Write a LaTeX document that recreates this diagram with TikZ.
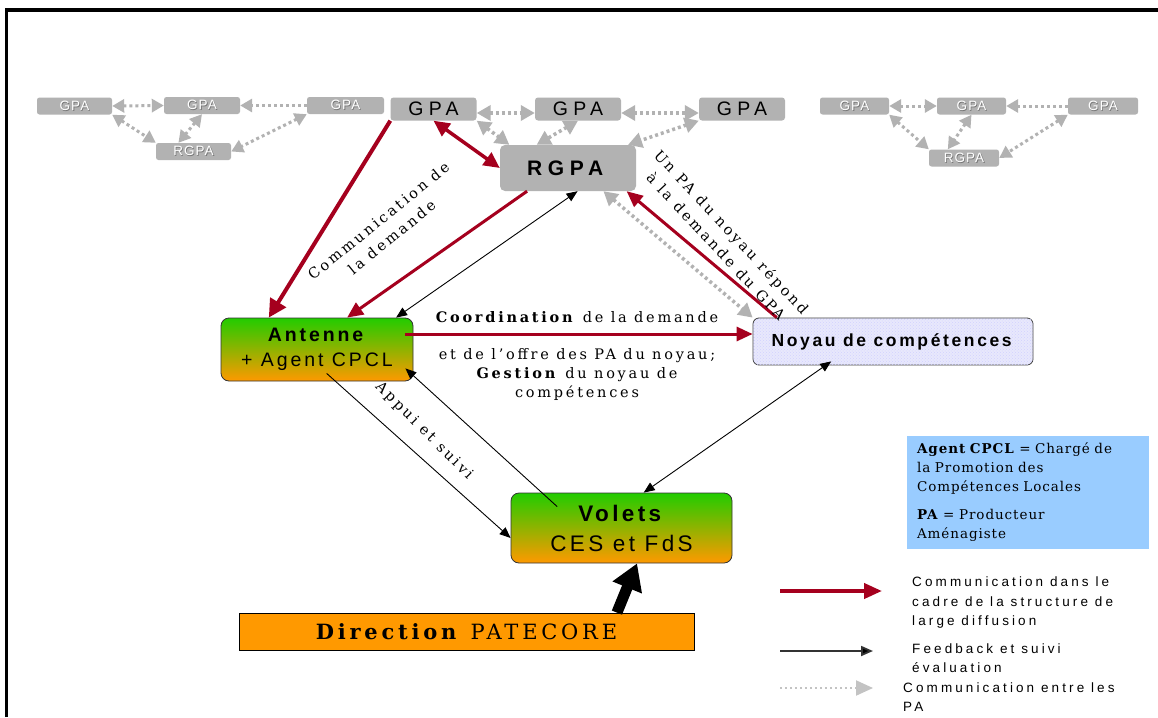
\documentclass[tikz,border=0pt]{standalone}
\usepackage{fontspec}
\setmainfont{DejaVu Serif}
\setsansfont{Liberation Sans}
\newfontfamily\sGPA[LetterSpace=27]{Liberation Sans}
\newfontfamily\sBox[LetterSpace=15]{Liberation Sans}
\newfontfamily\sLeg[LetterSpace=23]{Liberation Sans}
\newfontfamily\sSmall[LetterSpace=8]{Liberation Sans}
\newfontfamily\rLab[LetterSpace=19]{DejaVu Serif}
\newfontfamily\rDir[LetterSpace=18]{DejaVu Serif}
\newfontfamily\rBlue[LetterSpace=7]{DejaVu Serif}
\usetikzlibrary{arrows.meta,calc,patterns}
\definecolor{pgray}{RGB}{178,178,178}
\definecolor{dred}{RGB}{165,0,30}
\definecolor{gtop}{RGB}{34,204,0}
\definecolor{gbot}{RGB}{255,153,0}
\definecolor{lav}{RGB}{232,232,252}
\definecolor{lblue}{RGB}{153,204,255}
\definecolor{lgray}{RGB}{195,195,195}
\definecolor{shgray}{RGB}{120,120,120}
\newcommand\emb[1]{\makebox[0pt][l]{\hspace{0.8pt}\raisebox{-0.8pt}{\textcolor{shgray}{#1}}}\textcolor{white}{#1}}
\tikzset{
  smallbox/.style={fill=pgray, rounded corners=2.5pt, minimum height=17pt, inner sep=0pt, font=\sSmall\fontsize{13.5}{14}\selectfont},
  gpabox/.style={fill=pgray, rounded corners=3pt, minimum width=86pt, minimum height=23pt, inner sep=0pt, font=\sGPA\fontsize{19.5}{20}\selectfont},
  rgpabox/.style={fill=pgray, rounded corners=5pt, minimum width=136pt, minimum height=46pt, inner sep=0pt, font=\sGPA\fontsize{21}{22}\selectfont},
  gradbox/.style={draw=black!80, line width=0.8pt, top color=gtop, bottom color=gbot, rounded corners=8pt, inner sep=0pt, align=center},
  lab/.style={inner sep=0pt, font=\rLab\fontsize{14.5}{19}\selectfont},
  leg/.style={inner sep=0pt, anchor=west, align=left, font=\sLeg\fontsize{13.5}{19.5}\selectfont},
  sgray/.style={draw=pgray, line width=3pt, dash pattern=on 3pt off 3pt, {Triangle[length=12pt,width=13pt]}-{Triangle[length=12pt,width=13pt]}},
  sgrayone/.style={draw=pgray, line width=3pt, dash pattern=on 3pt off 3pt, -{Triangle[length=12pt,width=13pt]}},
  mgray/.style={draw=pgray, line width=3.5pt, dash pattern=on 3pt off 3pt, {Triangle[length=14pt,width=15pt]}-{Triangle[length=14pt,width=15pt]}},
  redone/.style={draw=dred, line width=3pt, -{Triangle[length=16pt,width=14pt]}},
  redfour/.style={draw=dred, line width=4pt, -{Triangle[length=18pt,width=18pt]}},
  redtwo/.style={draw=dred, line width=3.5pt, {Triangle[length=16pt,width=15pt]}-{Triangle[length=16pt,width=15pt]}},
  blkone/.style={draw=black, line width=0.9pt, -{Triangle[length=11pt,width=9pt]}},
  blktwo/.style={draw=black, line width=0.9pt, {Triangle[length=11pt,width=9pt]}-{Triangle[length=11pt,width=9pt]}},
  bigarr/.style={draw=black, line width=11pt, -{Triangle[length=26pt,width=30pt]}}
}
\begin{document}
\begin{tikzpicture}[x=1pt,y=-1pt]
\useasboundingbox (0,0) rectangle (1158,717);
\fill[white] (0,0) rectangle (1158,717);
\draw[line width=3.3pt] (6.5,717) -- (6.5,10) -- (1158,10);

% faded side clusters
\node[smallbox, minimum width=75pt] (sg1) at (74.5,106) {\emb{GPA}};
\node[smallbox, minimum width=76pt] (sg2) at (202,105.5) {\emb{GPA}};
\node[smallbox, minimum width=77pt] (sg3) at (345.5,105.5) {\emb{GPA}};
\node[smallbox, minimum width=75pt] (sr1) at (193.5,151.5) {\emb{RGPA}};
\node[smallbox, minimum width=69pt] (sg4) at (854.5,106) {\emb{GPA}};
\node[smallbox, minimum width=69pt] (sg5) at (971.5,106) {\emb{GPA}};
\node[smallbox, minimum width=70pt] (sg6) at (1103,106) {\emb{GPA}};
\node[smallbox, minimum width=70pt] (sr2) at (964,158) {\emb{RGPA}};

\draw[sgray] (sg1.east) -- (sg2.west);
\draw[sgrayone] (sg3.west) -- (sg2.east);
\draw[sgray] (sg1.south east) -- (sr1.north west);
\draw[sgray] (sg2.south) -- ($(sr1.north west)!0.3!(sr1.north east)$);
\draw[sgray] (sg3.south west) -- (sr1.east);
\draw[sgray] (sg4.east) -- (sg5.west);
\draw[sgrayone] (sg6.west) -- (sg5.east);
\draw[sgray] (sg4.south east) -- (sr2.north west);
\draw[sgray] (sg5.south) -- ($(sr2.north west)!0.27!(sr2.north east)$);
\draw[sgray] (sg6.south west) -- (sr2.east);

% central cluster
\node[gpabox] (gA) at (433.5,109) {GPA};
\node[gpabox] (gB) at (578,109) {GPA};
\node[gpabox] (gC) at (742,109) {GPA};
\node[rgpabox] (rg) at (568,168) {\textbf{RGPA}};

% main boxes
\node[gradbox, minimum width=192pt, minimum height=63pt, font=\sBox\fontsize{19.5}{25}\selectfont] (ant) at (317,349.5) {\textbf{Antenne}\\+ Agent CPCL};
\node[draw=black!75, line width=0.8pt, fill=lav, rounded corners=6pt, minimum width=280pt, minimum height=47pt, inner sep=0pt,
      postaction={pattern=crosshatch dots, pattern color=blue!18},
      font=\sBox\fontsize{17.5}{18}\selectfont] (noy) at (893,341.5) {\textbf{Noyau de compétences}};
\node[gradbox, minimum width=221pt, minimum height=70pt, font=\sBox\fontsize{22.5}{30}\selectfont] (vol) at (621.5,528) {\textbf{Volets}\\CES et FdS};
\node[draw=black, line width=0.8pt, fill=gbot, minimum width=455pt, minimum height=37pt, inner sep=0pt,
      font=\rDir\fontsize{21}{24}\selectfont] (dir) at (466.5,631.5) {\textbf{Direction} PATECORE};
\node[fill=lblue, minimum width=242pt, minimum height=113pt, inner xsep=10pt, inner ysep=0pt, text width=222pt, align=left,
      font=\rBlue\fontsize{13.5}{19}\selectfont] (blue) at (1028,492.5)
      {\textbf{Agent CPCL} = Chargé de\\la Promotion des\\Compétences Locales\\[9pt]\textbf{PA} = Producteur\\Aménagiste};

% central arrows
\draw[mgray] ($(gA.east)+(0,4)$) -- ($(gB.west)+(0,4)$);
\draw[mgray] ($(gB.east)+(0,4)$) -- ($(gC.west)+(0,4)$);
\draw[mgray] (gA.south east) -- ($(rg.north west)!0.07!(rg.north east)$);
\draw[mgray] (gB.south) -- ($(rg.north west)!0.27!(rg.north east)$);
\draw[mgray] (gC.south west) -- ($(rg.north west)!0.94!(rg.north east)$);
\draw[mgray] ($(rg.south west)!0.76!(rg.south east)$) -- (noy.north west);

\draw[redtwo] (gA.south) -- (rg.west);
\draw[redfour] (gA.south west) -- ($(ant.north west)!0.25!(ant.north east)$);
\draw[redone] ($(rg.south west)!0.2!(rg.south east)$) -- ($(ant.north west)!0.656!(ant.north east)$);
\draw[blktwo] ($(rg.south west)!0.57!(rg.south east)$) -- ($(ant.north west)!0.91!(ant.north east)$);
\draw[redone] ($(noy.north west)!0.086!(noy.north east)$) -- ($(rg.south west)!0.93!(rg.south east)$);
\coordinate (cs) at ($(ant.east)+(-8,-15.5)$);
\draw[redone] (cs) -- (cs -| noy.west);
\draw[blkone] ($(ant.south west)!0.55!(ant.south east)+(0,-8)$) -- ($(vol.west)+(0,10)$);
\draw[blkone] ($(vol.north west)!0.21!(vol.north east)+(0,14)$) -- ($(ant.south east)+(-8,-13)$);
\draw[blktwo] ($(noy.south west)!0.28!(noy.south east)+(0,-4)$) -- ($(vol.north west)!0.6!(vol.north east)$);
\draw[bigarr] ($(dir.north west)!0.83!(dir.north east)$) -- ($(vol.south west)!0.57!(vol.south east)$);

% labels
\node[lab] (coord1) at (577,317) {\textbf{Coordination} de la demande};
\node[lab, align=center] (coord2) at (577,374) {et de l’offre des PA du noyau;\\\textbf{Gestion} du noyau de\\compétences};
\node[lab, rotate=39, align=center, font=\rLab\fontsize{14.5}{21}\selectfont] (lcom) at (385,229) {Communication de\\la demande};
\node[lab, rotate=-47, align=center, font=\rLab\fontsize{14.5}{21}\selectfont] (lun) at (724,239) {Un PA du noyau répond\\à la demande du GPA};
\node[lab, rotate=-45] (lapp) at (424,431) {Appui et suivi};

% legend
\coordinate (la1) at (780,591); \coordinate (lb1) at (882,591);
\coordinate (la2) at (780,651); \coordinate (lb2) at (873,651);
\coordinate (la3) at (780,688); \coordinate (lb3) at (873,688);
\draw[draw=dred, line width=4pt, -{Triangle[length=18pt,width=15pt]}] (la1) -- (lb1);
\draw[draw=black!80, line width=1.8pt, -{Triangle[length=12pt,width=10pt,fill=black]}] (la2) -- (lb2);
\draw[draw=lgray, line width=2pt, dash pattern=on 2pt off 3pt, -{Triangle[length=17pt,width=15pt]}] (la3) -- (lb3);
\node[leg] (t1) at (912,603) {Communication dans le\\cadre de la structure de\\large diffusion};
\node[leg] (t2) at (912,658) {Feedback et suivi\\évaluation};
\node[leg] (t3) at (903,697) {Communication entre les\\PA};
\end{tikzpicture}
\end{document}
